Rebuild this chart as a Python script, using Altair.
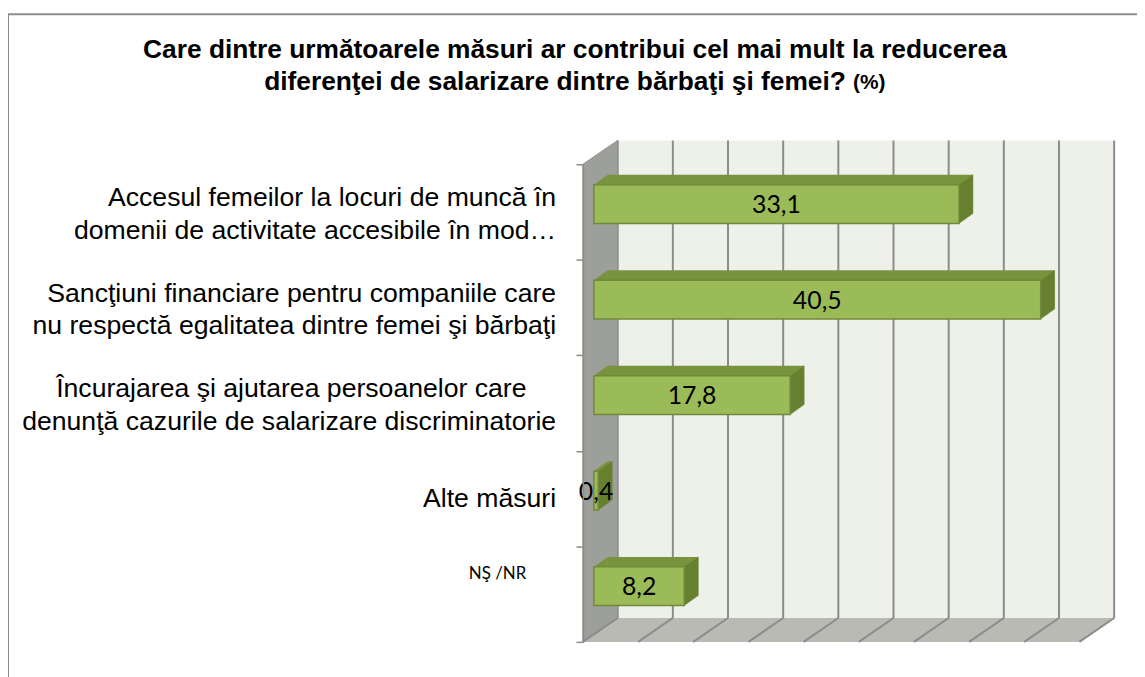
import altair as alt
import pandas as pd

# ---- data ----
PAD4 = "\u00a0" * 4 + "\u200b"   # keeps Excel-style centred line positions
categories = [
    "Accesul femeilor la locuri de muncă în\ndomenii de activitate accesibile în mod…",
    "Sancţiuni financiare pentru companiile care\nnu respectă egalitatea dintre femei şi bărbaţi",
    "Încurajarea şi ajutarea persoanelor care" + PAD4 + "\ndenunţă cazurile de salarizare discriminatorie",
    "Alte măsuri",
    "NŞ /NR",
]
values = [33.1, 40.5, 17.8, 0.4, 8.2]
grid_values = [0, 5, 10, 15, 20, 25, 30, 35, 40, 45]
title_line1 = "Care dintre următoarele măsuri ar contribui cel mai mult la reducerea"
title_line2 = "diferenţei de salarizare dintre bărbaţi şi femei?"
title_unit = "(%)"

# ---- geometry / style ----
W, H = 500, 481          # front plane of the 3D box
DX, DY = 35, 24          # depth of the box
BX, BY = 11, 8           # bar front face shift into depth
TX, TY = 14, 10          # bar thickness
BAR_H = 39
LH = 33                  # category label line height

WALL = "#eef0ea"
SIDE = "#9d9f9a"
FLOOR = "#b8bab3"
GRID = "#8c8c8c"
FRONT = "#9bbb59"
TOP = "#77933c"
SIDEFACE = "#66802f"
EDGE = "#71893a"

df = pd.DataFrame({"cat": categories, "value": values})
grid = pd.DataFrame({"g": grid_values})
one = pd.DataFrame({"k": [0]})

xscale = alt.Scale(domain=[0, 45], zero=True, nice=False)
yscale = alt.Scale(domain=categories, paddingInner=0, paddingOuter=0)

yaxis = alt.Axis(
    orient="left", title=None, grid=False, zindex=1, labels=False,
    domain=True, domainColor=GRID, domainWidth=1.5,
    ticks=True, tickColor=GRID, tickSize=7, tickWidth=1.5, tickBand="extent",
)
Y = alt.Y("cat:N", sort=categories, scale=yscale, axis=yaxis)
X0 = alt.X(datum=0, type="quantitative", scale=xscale, axis=None)

frame = alt.Chart(one).mark_rect(
    fill="transparent", stroke="#8d8d8d", strokeWidth=2
).encode(x=alt.value(-579), x2=alt.value(W + 300), y=alt.value(-151), y2=alt.value(H + 300))

title_font = dict(font="Liberation Sans", fontWeight="bold", color="black", baseline="middle")
title1 = alt.Chart(one).mark_text(
    text=title_line1, fontSize=26.5, align="center", **title_font
).encode(x=alt.value(-8), y=alt.value(-115))
title2 = alt.Chart(one).mark_text(
    text=title_line2, fontSize=26.5, align="left", **title_font
).encode(x=alt.value(-321), y=alt.value(-83))
title3 = alt.Chart(one).mark_text(
    text=title_unit, fontSize=21, align="left", **title_font
).encode(x=alt.value(272), y=alt.value(-82))

back_wall = alt.Chart(one).mark_rect(fill=WALL, xOffset=DX, x2Offset=DX).encode(
    x=X0, x2=alt.X2(datum=45), y=alt.value(-DY), y2=alt.value(H - DY)
)

back_grid = alt.Chart(grid).mark_rule(stroke=GRID, strokeWidth=2, xOffset=DX).encode(
    x=alt.X("g:Q", scale=xscale, axis=None), y=alt.value(-DY), y2=alt.value(H - DY)
)

side_wall = alt.Chart(one).mark_point(
    shape=f"M0,0L{DX},{-DY}L{DX},{H - DY}L0,{H}Z", size=4, filled=True,
    fill=SIDE, stroke=GRID, strokeWidth=1, opacity=1,
).encode(x=X0, y=alt.value(0))

floor = alt.Chart(one).mark_point(
    shape=f"M0,0L{DX},{-DY}L{W + DX},{-DY}L{W},0Z", size=4, filled=True,
    fill=FLOOR, opacity=1,
).encode(x=X0, y=alt.value(H))

floor_grid = alt.Chart(grid).mark_point(
    shape=f"M0,0L{DX},{-DY}", size=4, filled=False, stroke=GRID, strokeWidth=2, opacity=1,
).encode(x=alt.X("g:Q", scale=xscale, axis=None), y=alt.value(H))

ft = -BY - BAR_H / 2     # front-top y relative to band centre
fb = -BY + BAR_H / 2     # front-bottom y

top_face = alt.Chart(df).mark_bar(
    fill=TOP, size=BAR_H, xOffset=BX + TX, x2Offset=BX + TX, yOffset=-(BY + TY),
).encode(x=alt.X("value:Q", scale=xscale, axis=None), y=Y)

top_tri = alt.Chart(df).mark_point(
    shape=f"M{BX},{ft}L{BX + TX},{ft - TY}L{BX + TX},{ft}Z", size=4, filled=True,
    fill=TOP, opacity=1,
).encode(x=X0, y=Y)

side_face = alt.Chart(df).mark_point(
    shape=f"M{BX},{ft}L{BX + TX},{ft - TY}L{BX + TX},{fb - TY}L{BX},{fb}Z", size=4,
    filled=True, fill=SIDEFACE, stroke=EDGE, strokeWidth=0.5, opacity=1,
).encode(x=alt.X("value:Q", scale=xscale, axis=None), y=Y)

front_face = alt.Chart(df).mark_bar(
    fill=FRONT, stroke=EDGE, strokeWidth=1.5, size=BAR_H,
    xOffset=BX, x2Offset=BX, yOffset=-BY,
).encode(x=alt.X("value:Q", scale=xscale, axis=None), y=Y)

value_labels = alt.Chart(df).transform_calculate(
    mid="datum.value / 2",
    label="replace(format(datum.value, '.1f'), '.', ',')",
).mark_text(
    font="Lato", fontSize=25, color="black", align="center", baseline="middle",
    xOffset=BX, yOffset=-BY + 1,
).encode(x=alt.X("mid:Q", scale=xscale, axis=None), y=Y, text="label:N")

# category labels (text layers placed on the category scale)
cat_style = dict(font="Liberation Sans", fontSize=26.8, color="black", align="right",
                 baseline="middle", lineBreak="\n", lineHeight=LH)
labels_multi = alt.Chart(df).transform_filter(
    "indexof(datum.cat, '\\n') >= 0"
).mark_text(yOffset=-LH / 2 + 2.5, **cat_style).encode(x=alt.value(-27), y=Y, text="cat:N")

labels_single = alt.Chart(df).transform_filter(
    "indexof(datum.cat, '\\n') < 0 && indexof(datum.cat, 'NŞ') < 0"
).mark_text(**cat_style).encode(x=alt.value(-27), y=Y, text="cat:N")

labels_ns = alt.Chart(df).transform_filter(
    "indexof(datum.cat, 'NŞ') >= 0"
).mark_text(font="Lato", fontSize=17, color="black", align="right",
            baseline="middle", yOffset=-20).encode(x=alt.value(-57), y=Y, text="cat:N")

chart = alt.layer(
    frame, title1, title2, title3, back_wall, back_grid, side_wall, floor, floor_grid,
    top_face, top_tri, side_face, front_face, value_labels,
    labels_multi, labels_single, labels_ns,
).properties(
    width=W, height=H,
    padding={"left": 579, "top": 155, "right": 58, "bottom": 33},
    autosize=alt.AutoSizeParams(type="none"),
    background="white",
).configure_view(stroke="transparent")

chart.save("out.html", embed_options={"renderer": "svg", "actions": False})
